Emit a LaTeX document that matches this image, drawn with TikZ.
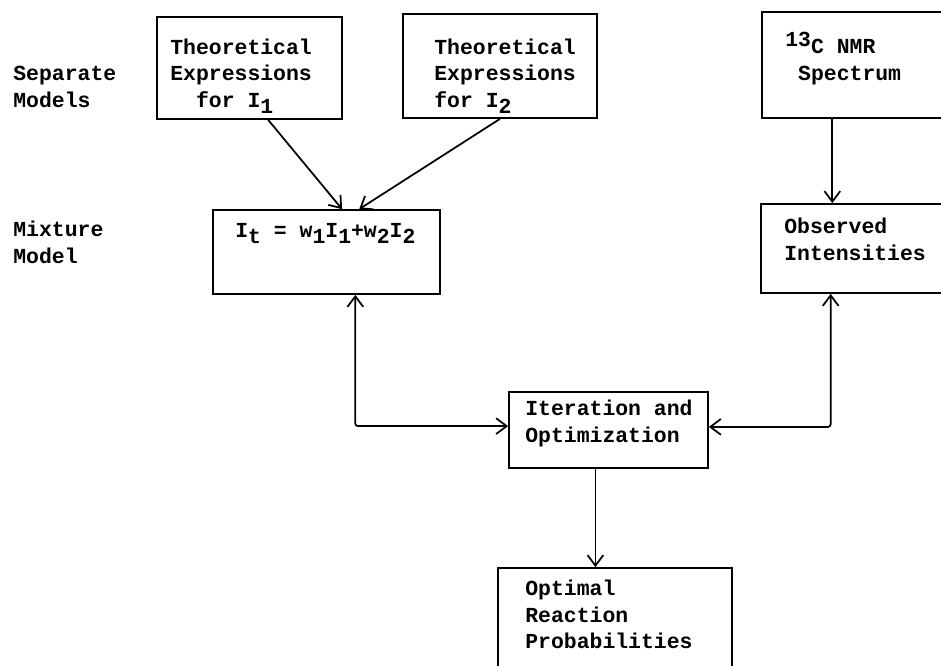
\documentclass[tikz,border=0pt]{standalone}
\usepackage{fontspec}
\setmonofont{Liberation Mono}
\usetikzlibrary{arrows.meta,calc}

\tikzset{
  box/.style={draw,line width=1pt,inner sep=0pt},
  txt/.style={font=\ttfamily\bfseries\fontsize{12.2}{14.8}\selectfont,align=left,anchor=base west,inner sep=0pt},
  flow/.style={line width=1pt,-{Straight Barb[length=6pt,width=9pt]}},
  twoway/.style={line width=1pt,rounded corners=1.5pt,{Straight Barb[length=6pt,width=9pt]}-{Straight Barb[length=6pt,width=9pt]}}
}
\newcommand{\lo}[1]{\raisebox{-3.6pt}{#1}}
\newcommand{\hi}[1]{\raisebox{4pt}{#1}}

\begin{document}
\begin{tikzpicture}[x=0.02cm,y=-0.02cm]
  \useasboundingbox (0,0) rectangle (941,666);
  \fill[white] (0,0) rectangle (941,666);

  % row labels (placed by the last line)
  \node[txt] (lsep) at (13,107) {Separate\\Models};
  \node[txt] (lmix) at (13,263) {Mixture\\Model};

  % boxes
  \node[box,minimum width=3.70cm,minimum height=2.04cm] (thA) at (249.5,68) {};
  \node[box,minimum width=3.88cm,minimum height=2.08cm] (thB) at (500,66) {};
  \node[box,minimum width=3.92cm,minimum height=2.12cm] (nmr) at (860,65) {};
  \node[box,minimum width=4.54cm,minimum height=1.68cm] (mix) at (326.5,252) {};
  \node[box,minimum width=3.94cm,minimum height=1.78cm] (obs) at (859.5,248.5) {};
  \node[box,minimum width=3.98cm,minimum height=1.52cm] (iter) at (608.5,430) {};
  \node[box,minimum width=4.68cm,minimum height=2.44cm] (opt) at (615,629) {};

  % box texts
  \node[txt] (tA) at (170,107) {Theoretical\\Expressions\\\phantom{xx}for I\lo{1}};
  \node[txt] (tB) at (434,107) {Theoretical\\Expressions\\for I\lo{2}};
  \node[txt] (tC) at (785,80) {\hi{13}C NMR\\\phantom{x}Spectrum};
  \node[txt] (tD) at (235,237) {I\lo{t} = w\lo{1}I\lo{1}+w\lo{2}I\lo{2}};
  \node[txt] (tE) at (784,260) {Observed\\Intensities};
  \node[txt] (tF) at (525,442) {Iteration and\\Optimization};
  \node[txt] (tG) at (525,648) {Optimal\\Reaction\\Probabilities};

  % connectors
  \draw[flow] ($(thA.south west)!.6!(thA.south east)$) -- ($(mix.north west)!.568!(mix.north east)$);
  \draw[flow] (thB.south) -- ($(mix.north west)!.643!(mix.north east)$);
  \draw[flow] ($(nmr.south west)!.36!(nmr.south east)$) coordinate (c1) -- (c1 |- obs.north);
  \draw[twoway] ($(mix.south west)!.626!(mix.south east)$) |- ($(iter.north west)!.45!(iter.south west)$);
  \draw[twoway] ($(obs.south west)!.355!(obs.south east)$) |- ($(iter.north east)!.46!(iter.south east)$);
  \draw[flow] ($(iter.south west)!.435!(iter.south east)$) coordinate (c2) -- (c2 |- opt.north);
\end{tikzpicture}
\end{document}
